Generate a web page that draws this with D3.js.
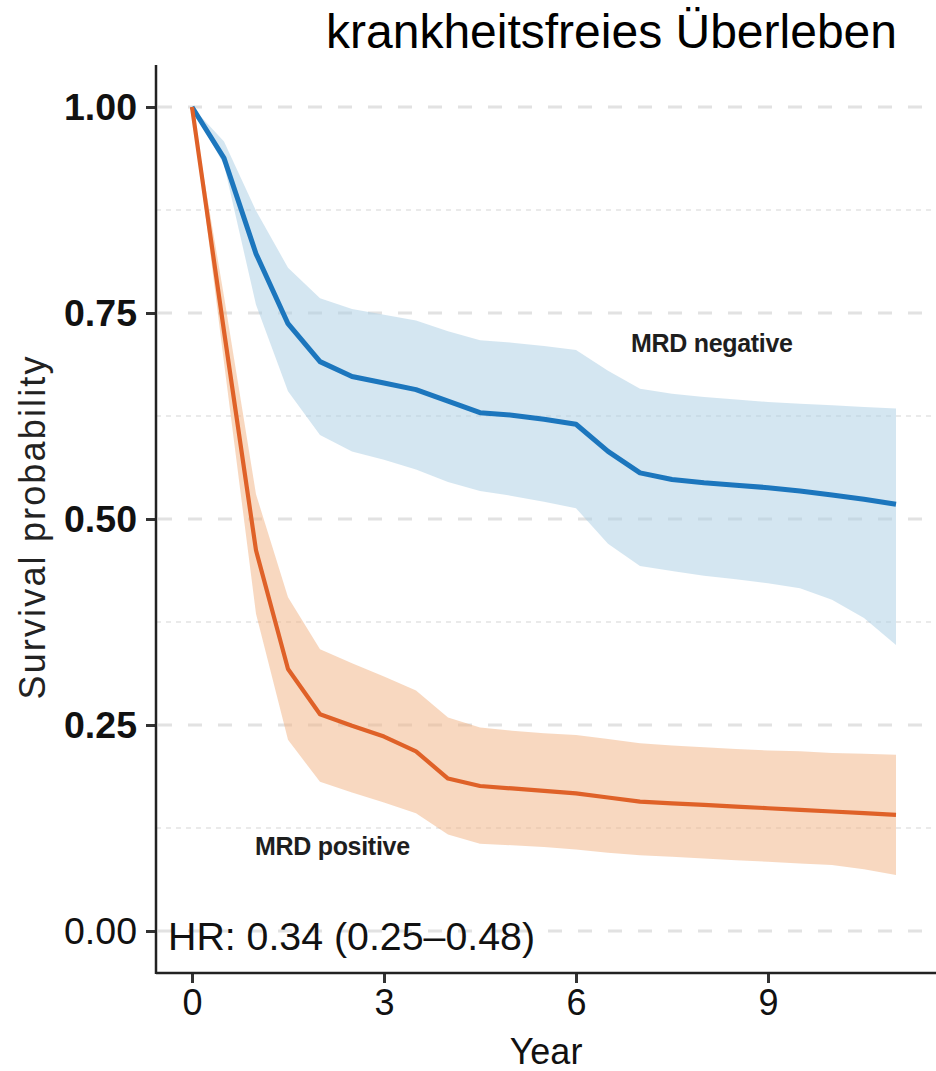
<!DOCTYPE html>
<html>
<head>
<meta charset="utf-8">
<script src="https://cdn.jsdelivr.net/npm/d3@7"></script>
<style>
  html, body { margin: 0; padding: 0; background: #fff; }
  svg { display: block; font-family: "Liberation Sans", Arial, Helvetica, sans-serif; }
</style>
</head>
<body>
<svg id="chart" width="936" height="1071"></svg>
<script>
// Kaplan–Meier style estimates at half-year steps (years 0 … 11)
const years = [0, 0.5, 1, 1.5, 2, 2.5, 3, 3.5, 4, 4.5, 5, 5.5, 6, 6.5, 7, 7.5, 8, 8.5, 9, 9.5, 10, 10.5, 11];

const negSurv  = [1.00, 0.938, 0.822, 0.737, 0.691, 0.673, 0.665, 0.657, 0.643, 0.629, 0.626, 0.621, 0.615, 0.582, 0.556, 0.548, 0.544, 0.541, 0.538, 0.534, 0.529, 0.524, 0.518];
const negUpper = [1.00, 0.958, 0.874, 0.805, 0.768, 0.755, 0.748, 0.741, 0.728, 0.717, 0.714, 0.710, 0.705, 0.680, 0.658, 0.652, 0.648, 0.645, 0.642, 0.640, 0.638, 0.636, 0.634];
const negLower = [1.00, 0.930, 0.760, 0.655, 0.602, 0.582, 0.572, 0.560, 0.545, 0.534, 0.528, 0.521, 0.513, 0.470, 0.443, 0.437, 0.431, 0.427, 0.422, 0.416, 0.402, 0.380, 0.347];

const posSurv  = [1.00, 0.728, 0.462, 0.318, 0.263, 0.249, 0.236, 0.218, 0.185, 0.176, 0.173, 0.170, 0.167, 0.162, 0.157, 0.155, 0.153, 0.151, 0.149, 0.147, 0.145, 0.143, 0.141];
const posUpper = [1.00, 0.770, 0.530, 0.405, 0.342, 0.325, 0.309, 0.292, 0.259, 0.247, 0.243, 0.240, 0.238, 0.233, 0.228, 0.225, 0.223, 0.221, 0.219, 0.218, 0.216, 0.215, 0.214];
const posLower = [1.00, 0.690, 0.385, 0.232, 0.181, 0.168, 0.156, 0.143, 0.117, 0.106, 0.104, 0.102, 0.099, 0.095, 0.092, 0.090, 0.088, 0.086, 0.084, 0.082, 0.080, 0.075, 0.068];

const xTicks = [0, 3, 6, 9];
const yTicks = [0, 0.25, 0.5, 0.75, 1];
const yMinor = [0.125, 0.375, 0.625, 0.875];

const titleText = "krankheitsfreies Überleben";
const xTitle = "Year";
const yTitle = "Survival probability";
const hrText = "HR: 0.34 (0.25–0.48)";
const groupLabels = ["MRD negative", "MRD positive"];

const svg = d3.select("#chart");

// Panel geometry
const panel = { left: 156, right: 936, top: 65, bottom: 973 };

const x = d3.scaleLinear().domain([0, 11]).range([192, 896]);
const y = d3.scaleLinear().domain([0, 1]).range([931, 107]);

// Grid lines
const grid = svg.append("g");
grid.selectAll("line.minor").data(yMinor).join("line")
  .attr("x1", panel.left).attr("x2", panel.right)
  .attr("y1", d => y(d)).attr("y2", d => y(d))
  .attr("stroke", "#e4e4e4").attr("stroke-width", 1.5)
  .attr("stroke-dasharray", "5,5");
grid.selectAll("line.major").data(yTicks).join("line")
  .attr("x1", panel.left + 2).attr("x2", panel.right)
  .attr("y1", d => y(d)).attr("y2", d => y(d))
  .attr("stroke", "#e2e2e2").attr("stroke-width", 3)
  .attr("stroke-dasharray", "14,16");

// Confidence bands and survival curves
const rows = (s, lo, hi) => years.map((t, i) => ({ t, s: s[i], lo: lo[i], hi: hi[i] }));
const groups = [
  { data: rows(negSurv, negLower, negUpper), line: "#1c76bd", band: "rgb(170,205,228)" },
  { data: rows(posSurv, posLower, posUpper), line: "#df6128", band: "rgb(241,177,129)" }
];

const area = d3.area().x(d => x(d.t)).y0(d => y(d.lo)).y1(d => y(d.hi));
const line = d3.line().x(d => x(d.t)).y(d => y(d.s));

groups.forEach(g => {
  svg.append("path").datum(g.data)
    .attr("d", area)
    .attr("fill", g.band)
    .attr("fill-opacity", 0.5);
});
groups.forEach((g, i) => {
  svg.append("path").datum(g.data)
    .attr("d", line)
    .attr("fill", "none")
    .attr("stroke", g.line)
    .attr("stroke-width", i === 0 ? 5 : 4.2)
    .attr("stroke-linejoin", "round");
});

// Axes
const yAxis = svg.append("g")
  .attr("transform", `translate(${panel.left},0)`)
  .call(d3.axisLeft(y).tickValues(yTicks).tickFormat(d3.format(".2f")).tickSize(10).tickPadding(9));
yAxis.select(".domain").remove();
yAxis.selectAll(".tick line").attr("stroke", "#333").attr("stroke-width", 3);
yAxis.selectAll(".tick text")
  .attr("font-size", 37.5)
  .attr("fill", "#111")
  .attr("font-weight", d => d === 0 ? "normal" : "bold")
  .attr("font-family", "'Liberation Sans', Arial, sans-serif");

const xAxis = svg.append("g")
  .attr("transform", `translate(0,${panel.bottom})`)
  .call(d3.axisBottom(x).tickValues(xTicks).tickFormat(d3.format("d")).tickSize(10).tickPadding(6));
xAxis.select(".domain").remove();
xAxis.selectAll(".tick line").attr("stroke", "#333").attr("stroke-width", 3);
xAxis.selectAll(".tick text")
  .attr("font-size", 36)
  .attr("fill", "#111")
  .attr("font-family", "'Liberation Sans', Arial, sans-serif");

// Panel border lines (left and bottom)
svg.append("line")
  .attr("x1", panel.left).attr("x2", panel.left)
  .attr("y1", panel.top).attr("y2", panel.bottom + 1)
  .attr("stroke", "#222").attr("stroke-width", 2.5);
svg.append("line")
  .attr("x1", panel.left).attr("x2", panel.right)
  .attr("y1", panel.bottom).attr("y2", panel.bottom)
  .attr("stroke", "#222").attr("stroke-width", 2.5);

// Titles
svg.append("text")
  .attr("x", 326).attr("y", 48)
  .attr("font-size", 48)
  .attr("fill", "#000")
  .text(titleText);

svg.append("text")
  .attr("x", (panel.left + panel.right) / 2).attr("y", 1064)
  .attr("text-anchor", "middle")
  .attr("font-size", 36)
  .attr("fill", "#111")
  .text(xTitle);

svg.append("text")
  .attr("transform", `translate(45,${(panel.top + panel.bottom) / 2 + 9}) rotate(-90)`)
  .attr("text-anchor", "middle")
  .attr("font-size", 36)
  .attr("textLength", 343)
  .attr("lengthAdjust", "spacing")
  .attr("fill", "#222")
  .text(yTitle);

// Annotations
svg.append("text")
  .attr("x", 168).attr("y", 950)
  .attr("font-size", 39.3)
  .attr("fill", "#111")
  .text(hrText);

svg.append("text")
  .attr("x", 631).attr("y", 352)
  .attr("font-size", 25).attr("font-weight", "bold")
  .attr("letter-spacing", -0.3)
  .attr("fill", "#1e1e1e")
  .text(groupLabels[0]);

svg.append("text")
  .attr("x", 255).attr("y", 855)
  .attr("font-size", 25).attr("font-weight", "bold")
  .attr("letter-spacing", -0.3)
  .attr("fill", "#1e1e1e")
  .text(groupLabels[1]);
</script>
</body>
</html>
